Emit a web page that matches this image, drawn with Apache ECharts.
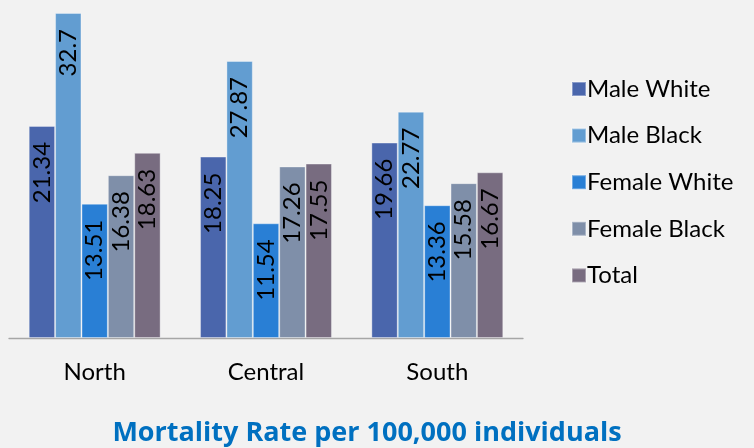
<!DOCTYPE html>
<html>
<head>
<meta charset="utf-8">
<script src="https://cdn.jsdelivr.net/npm/echarts@6/dist/echarts.min.js"></script>
<style>
html,body{margin:0;padding:0;background:#F2F2F2;}
#chart{width:754px;height:448px;}
</style>
</head>
<body>
<div id="chart"></div>
<script>
const categories = ['North', 'Central', 'South'];
const seriesNames = ['Male White', 'Male Black', 'Female White', 'Female Black', 'Total'];
const maleWhite = [21.34, 18.25, 19.66];
const maleBlack = [32.7, 27.87, 22.77];
const femaleWhite = [13.51, 11.54, 13.36];
const femaleBlack = [16.38, 17.26, 15.58];
const total = [18.63, 17.55, 16.67];
const titleText = 'Mortality Rate per 100,000 individuals';

const colors = ['#4A66AC', '#629DD1', '#297FD5', '#7F8FA9', '#786C80'];
const values = [maleWhite, maleBlack, femaleWhite, femaleBlack, total];
const font = 'Lato';

const chart = echarts.init(document.getElementById('chart'), null, {renderer: 'canvas'});
chart.setOption({
  backgroundColor: '#F2F2F2',
  animation: false,
  title: {
    text: titleText,
    left: 362, top: 415, textAlign: 'center',
    textStyle: {fontFamily: 'Open Sans', fontWeight: 'bold', fontSize: 27, color: '#0070C0'}
  },
  legend: {
    orient: 'vertical',
    left: 566, top: 72,
    itemWidth: 14, itemHeight: 14, itemGap: 22.6,
    icon: 'rect',
    textStyle: {fontFamily: font, fontSize: 24, color: '#000', padding: [0, 0, 0, -4]},
    data: seriesNames
  },
  grid: {left: 9, right: 231, top: 10, bottom: 110},
  xAxis: {
    type: 'category',
    data: categories,
    axisLine: {lineStyle: {color: '#A6A6A6', width: 1.3}},
    axisTick: {length: 9, lineStyle: {color: '#A6A6A6', width: 1.3}},
    axisLabel: {fontFamily: font, fontSize: 24, color: '#000', margin: 22}
  },
  yAxis: {type: 'value', min: 0, max: 33, show: false, splitLine: {show: false}},
  series: seriesNames.map((n, i) => ({
    name: n,
    type: 'bar',
    data: values[i],
    barGap: '0%',
    barCategoryGap: '23%',
    itemStyle: {color: colors[i], borderColor: 'rgba(255,255,255,0.35)', borderWidth: 1},
    label: {
      show: true,
      position: 'insideTop',
      rotate: 90,
      align: 'right',
      verticalAlign: 'middle',
      distance: 16,
      fontFamily: font,
      fontSize: 24,
      color: '#000'
    }
  }))
});
</script>
</body>
</html>
